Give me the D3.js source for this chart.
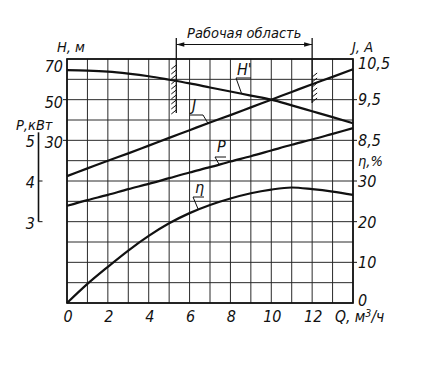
<!DOCTYPE html>
<html>
<head>
<meta charset="utf-8">
<script src="https://cdn.jsdelivr.net/npm/d3@7"></script>
<style>
  html, body { margin: 0; padding: 0; background: #fff; }
  svg text { font-family: "DejaVu Sans Condensed", "Liberation Sans Narrow", sans-serif; font-style: italic; fill: #111; }
</style>
</head>
<body>
<svg id="chart" width="427" height="382"></svg>
<script>
// ---- data ----
const Q      = [0, 1, 2, 3, 4, 5, 6, 7, 8, 9, 10, 11, 12, 13, 14];
const H      = [64.5, 64.3, 63.8, 62.8, 61.5, 59.8, 58.0, 56.0, 54.0, 52.0, 50.0, 47.2, 44.3, 41.4, 38.4];
const J      = [7.62, 7.81, 8.0, 8.18, 8.37, 8.56, 8.75, 8.94, 9.12, 9.31, 9.5, 9.69, 9.88, 10.06, 10.25];
const P      = [3.39, 3.53, 3.66, 3.80, 3.93, 4.07, 4.21, 4.34, 4.48, 4.61, 4.75, 4.89, 5.02, 5.16, 5.30];
const ETA    = [0, 4.7, 8.9, 12.9, 16.5, 19.6, 22.1, 24.1, 25.7, 27.0, 27.9, 28.4, 28.0, 27.4, 26.6];

const qTicks   = [0, 2, 4, 6, 8, 10, 12];
const qTickLbl = ["0", "2", "4", "6", "8", "10", "12"];
const hTicks   = [70, 50, 30];
const jTicks   = [10.5, 9.5, 8.5];
const jTickLbl = ["10,5", "9,5", "8,5"];
const etaTicks = [30, 20, 10, 0];
const pTicks   = [5, 4, 3];
const workZone = [5.35, 12];      // Рабочая область, m3/h

// ---- scales ----
const W = 427, HGT = 382;
const pL = 67, pR = 353, pT = 59, pB = 303;
const x    = d3.scaleLinear().domain([0, 14]).range([pL, pR]);
const yH   = d3.scaleLinear().domain([-50, 70]).range([pB, pT]);
const yJ   = d3.scaleLinear().domain([4.5, 10.5]).range([pB, pT]);
const yEta = d3.scaleLinear().domain([0, 60]).range([pB, pT]);
const yP   = d3.scaleLinear().domain([1, 7]).range([pB, pT]);

const svg = d3.select("#chart");
svg.append("rect").attr("width", W).attr("height", HGT).attr("fill", "#fff");

// ---- grid ----
const g = svg.append("g");
g.selectAll("line.h").data(d3.range(-50, 71, 10)).enter().append("line")
  .attr("x1", pL).attr("x2", pR)
  .attr("y1", d => yH(d)).attr("y2", d => yH(d))
  .attr("stroke", "#2a2a2a").attr("stroke-width", 1);
g.selectAll("line.v").data(d3.range(0, 15, 1)).enter().append("line")
  .attr("y1", pT).attr("y2", pB)
  .attr("x1", d => x(d)).attr("x2", d => x(d))
  .attr("stroke", "#2a2a2a").attr("stroke-width", 1);
g.append("rect").attr("x", pL).attr("y", pT).attr("width", pR - pL).attr("height", pB - pT)
  .attr("fill", "none").attr("stroke", "#111").attr("stroke-width", 1.7);

const fs = 14.5;   // word labels
const fn = 16;     // numbers & curve letters
// left H axis
svg.append("text").attr("x", 57).attr("y", 52).attr("font-size", fs).text("H, м");
svg.selectAll("text.hl").data(hTicks).enter().append("text")
  .attr("x", 63).attr("y", d => d === 70 ? yH(d) + 13 : yH(d) + 8)
  .attr("text-anchor", "end").attr("font-size", fn).text(d => d);
svg.selectAll("line.ht").data(hTicks.slice(1)).enter().append("line")
  .attr("x1", pL - 4).attr("x2", pL).attr("y1", d => yH(d)).attr("y2", d => yH(d))
  .attr("stroke", "#111").attr("stroke-width", 1);

// P axis (separate)
const pAxisX = 38.5;
svg.append("text").attr("x", 16).attr("y", 130).attr("font-size", fs).text("Р,кВт");
svg.append("line").attr("x1", pAxisX).attr("x2", pAxisX).attr("y1", yP(5) - 8).attr("y2", yP(3))
  .attr("stroke", "#111").attr("stroke-width", 1.6);
svg.selectAll("line.pt").data(pTicks.slice(1)).enter().append("line")
  .attr("x1", pAxisX).attr("x2", pAxisX + 4).attr("y1", d => yP(d)).attr("y2", d => yP(d))
  .attr("stroke", "#111").attr("stroke-width", 1);
svg.selectAll("text.pl").data(pTicks).enter().append("text")
  .attr("x", 35).attr("y", d => yP(d) + 7).attr("text-anchor", "end").attr("font-size", fn).text(d => d);

// right J axis
svg.append("text").attr("x", 352).attr("y", 52).attr("font-size", fs).text("J, A");
svg.selectAll("text.jl").data(jTicks).enter().append("text")
  .attr("x", 358).attr("y", (d, i) => i === 0 ? yJ(d) + 10 : yJ(d) + 5.5)
  .attr("font-size", fn).text((d, i) => jTickLbl[i]);
svg.selectAll("line.jt").data(jTicks.slice(1)).enter().append("line")
  .attr("x1", pR).attr("x2", pR + 4).attr("y1", d => yJ(d)).attr("y2", d => yJ(d))
  .attr("stroke", "#111").attr("stroke-width", 1);

// right eta axis
svg.append("text").attr("x", 358).attr("y", 166).attr("font-size", fs).text("η,%");
svg.selectAll("text.el").data(etaTicks).enter().append("text")
  .attr("x", 358).attr("y", d => d === 0 ? yEta(d) + 3 : yEta(d) + 6)
  .attr("font-size", fn).text(d => d);
svg.selectAll("line.et").data(etaTicks.slice(0, 3)).enter().append("line")
  .attr("x1", pR).attr("x2", pR + 4).attr("y1", d => yEta(d)).attr("y2", d => yEta(d))
  .attr("stroke", "#111").attr("stroke-width", 1);

// bottom Q axis
svg.selectAll("text.ql").data(qTicks).enter().append("text")
  .attr("x", d => x(d) + 1).attr("y", 322).attr("text-anchor", "middle")
  .attr("font-size", fn).text((d, i) => qTickLbl[i]);
const qt = svg.append("text").attr("x", 335).attr("y", 322).attr("font-size", 15.5);
qt.append("tspan").text("Q, м");
qt.append("tspan").attr("dy", -5).attr("font-size", 10.5).text("3");
qt.append("tspan").attr("dy", 5).attr("font-size", 15.5).text("/ч");

// ---- curves ----
function series(vals, ys) { return Q.map((q, i) => [x(q), ys(vals[i])]); }
const line = d3.line().curve(d3.curveMonotoneX);
const curves = [[H, yH], [J, yJ], [P, yP], [ETA, yEta]];
svg.selectAll("path.c").data(curves).enter().append("path")
  .attr("d", d => line(series(d[0], d[1])))
  .attr("fill", "none").attr("stroke", "#111").attr("stroke-width", 2.2);

// ---- curve labels with leaders ----
function valAt(vals, q) {
  const i = Math.min(Math.floor(q), Q.length - 2);
  const t = q - i;
  return vals[i] + (vals[i + 1] - vals[i]) * t;
}
const labels = [
  { txt: "H'", vals: H, ys: yH, q: 8.55, tx: 237, ty: 75, shelf: [236, 251, 78], from: 236 },
  { txt: "J",  vals: J, ys: yJ, q: 6.9,  tx: 192, ty: 111, shelf: [190, 203, 115], from: 203 },
  { txt: "P",  vals: P, ys: yP, q: 7.45, tx: 217, ty: 152, shelf: [215, 226, 157], from: 215 },
  { txt: "η",  vals: ETA, ys: yEta, q: 6.43, tx: 195, ty: 193, shelf: [193, 204, 197], from: 193 }
];
labels.forEach(l => {
  svg.append("text").attr("x", l.tx).attr("y", l.ty).attr("font-size", fn).text(l.txt);
  svg.append("line").attr("x1", l.shelf[0]).attr("x2", l.shelf[1]).attr("y1", l.shelf[2]).attr("y2", l.shelf[2])
    .attr("stroke", "#111").attr("stroke-width", 1);
  svg.append("line").attr("x1", l.from).attr("y1", l.shelf[2])
    .attr("x2", x(l.q)).attr("y2", l.ys(valAt(l.vals, l.q)))
    .attr("stroke", "#111").attr("stroke-width", 1);
});

// ---- working zone annotation ----
const zx0 = x(workZone[0]), zx1 = x(workZone[1]);
const ay = 44.5;
svg.append("line").attr("x1", zx0).attr("x2", zx0).attr("y1", 38).attr("y2", 113).attr("stroke", "#111").attr("stroke-width", 1.3);
svg.append("line").attr("x1", zx1).attr("x2", zx1).attr("y1", 38).attr("y2", 103).attr("stroke", "#111").attr("stroke-width", 1.3);
svg.append("line").attr("x1", zx0).attr("x2", zx1).attr("y1", ay).attr("y2", ay).attr("stroke", "#111").attr("stroke-width", 1);
svg.append("path").attr("d", `M${zx0},${ay} l8,-2.2 l0,4.4 Z`).attr("fill", "#111");
svg.append("path").attr("d", `M${zx1},${ay} l-8,-2.2 l0,4.4 Z`).attr("fill", "#111");
svg.append("text").attr("x", (zx0 + zx1) / 2).attr("y", 38).attr("text-anchor", "middle")
  .attr("font-size", fs).text("Рабочая область");
d3.range(66, 113, 5).forEach(yy => {
  svg.append("line").attr("x1", zx0 - 5).attr("y1", yy + 3).attr("x2", zx0).attr("y2", yy - 1)
    .attr("stroke", "#111").attr("stroke-width", 1);
});
d3.range(74, 103, 5).forEach(yy => {
  svg.append("line").attr("x1", zx1).attr("y1", yy + 3).attr("x2", zx1 + 5).attr("y2", yy - 1)
    .attr("stroke", "#111").attr("stroke-width", 1);
});
</script>
</body>
</html>
